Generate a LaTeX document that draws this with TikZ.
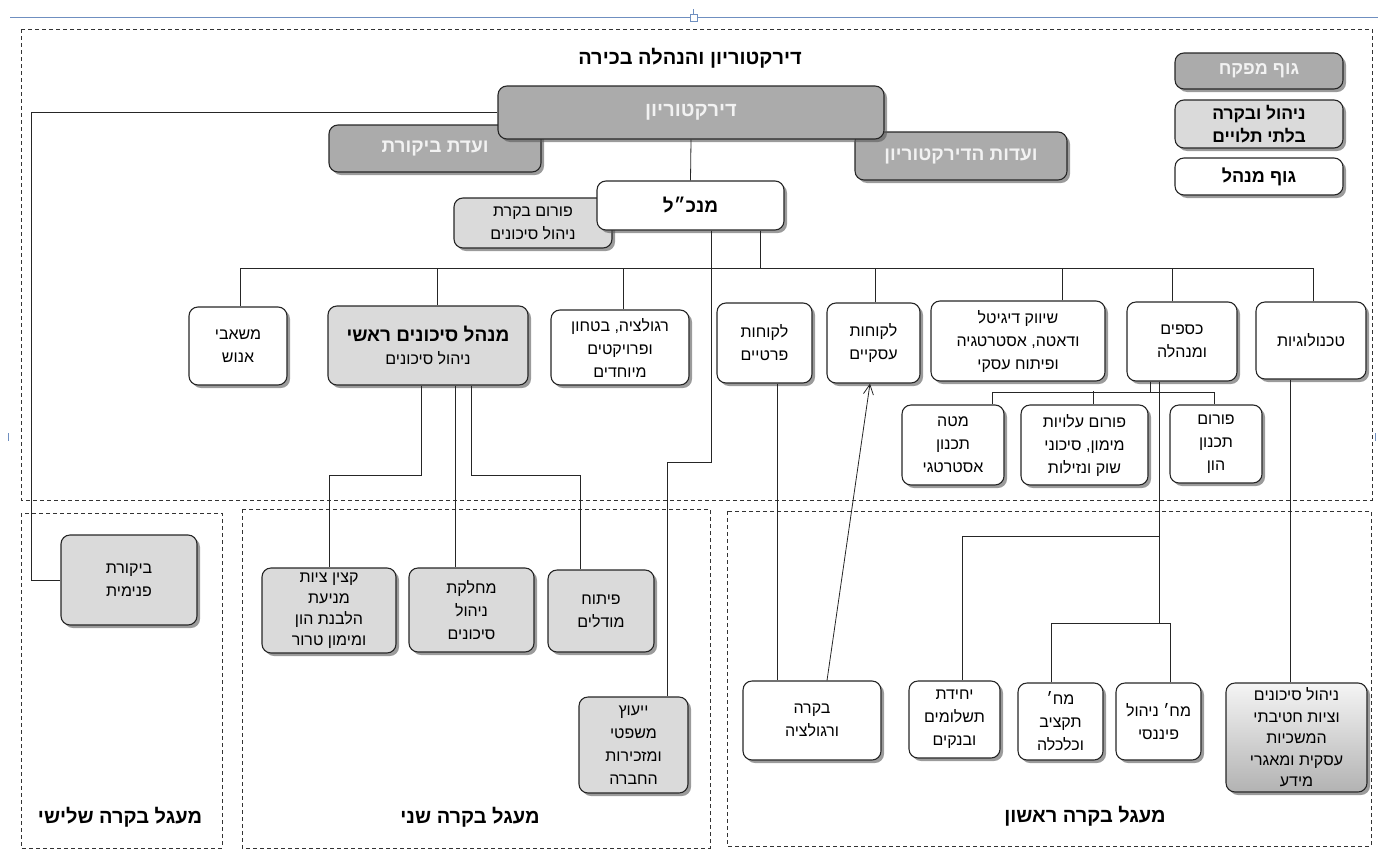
\documentclass[tikz,border=0pt]{standalone}
\usepackage{fontspec}
\setmainfont{Liberation Sans}
\newfontfamily\hebfont[Script=Hebrew]{Liberation Sans}
\usetikzlibrary{shadows,arrows.meta}
\TeXXeTstate=1
\newcommand\rtl[1]{\beginR#1\endR}
\definecolor{supgray}{HTML}{ABABAB}
\definecolor{indgray}{HTML}{DADADA}
\definecolor{canvasblue}{HTML}{6F8FC0}

\begin{document}
\begin{tikzpicture}[x=1pt,y=-1pt,
  box/.style={draw=black!85,line width=1.1pt,rounded corners=9pt,fill=white,
    align=center,inner sep=2pt,
    drop shadow={shadow xshift=3pt,shadow yshift=-3pt,fill=black!65,opacity=.6},
    font=\hebfont\fontsize{16}{23}\selectfont},
  supbox/.style={box,fill=supgray,text=white!95!black,font=\hebfont\bfseries\fontsize{19}{23}\selectfont},
  indbox/.style={box,fill=indgray},
  wh/.style 2 args={minimum width=#1pt,minimum height=#2pt},
  conn/.style={black!85,line width=0.8pt},
  ringbox/.style={black!80,line width=0.7pt,dash pattern=on 4pt off 3pt},
  lbl/.style={font=\hebfont\bfseries\fontsize{20}{24}\selectfont}]

  \useasboundingbox (0,0) rectangle (1378,854);

  %% canvas handles of the editor
  \draw[canvasblue,line width=0.7pt] (10,17) -- (1378,17);
  \draw[canvasblue,line width=0.7pt] (693,9) -- (693,14);
  \draw[canvasblue,line width=0.7pt,fill=white] (690,14) rectangle (697,21);
  \draw[canvasblue,line width=0.7pt] (8,433) -- (8,441);
  \draw[canvasblue,line width=0.7pt] (1375,433) -- (1375,441);

  %% the four control circles
  \draw[ringbox] (21,29) rectangle (1372,500);
  \draw[ringbox] (21,513) rectangle (222,848);
  \draw[ringbox] (242,509) rectangle (710,848);
  \draw[ringbox] (727,511) rectangle (1371,846);

  \node[lbl] (ttop) at (690,58) {\rtl{דירקטוריון והנהלה בכירה}};
  \node[lbl] (tthird) at (120,817) {\rtl{מעגל בקרה שלישי}};
  \node[lbl] (tsecond) at (470,817) {\rtl{מעגל בקרה שני}};
  \node[lbl] (tfirst) at (1085,816) {\rtl{מעגל בקרה ראשון}};

  %% legend
  \node[supbox,wh={168}{36},font=\hebfont\bfseries\fontsize{18}{23}\selectfont] (leg1) at (1259,71) {\rtl{גוף מפקח}};
  \node[indbox,wh={168}{48},font=\hebfont\bfseries\fontsize{17.5}{23}\selectfont] (leg2) at (1259,124)
    {\rtl{ניהול ובקרה}\\\rtl{בלתי תלויים}};
  \node[box,wh={168}{37},font=\hebfont\bfseries\fontsize{18}{23}\selectfont] (leg3) at (1259,176.5) {\rtl{גוף מנהל}};

  %% board and management
  \node[supbox,wh={212}{47}] (audit) at (435,148.5) {\rtl{ועדת ביקורת}};
  \node[supbox,wh={212}{48}] (comm) at (961,156) {\rtl{ועדות הדירקטוריון}};
  \node[supbox,wh={386}{53},font=\hebfont\bfseries\fontsize{20}{23}\selectfont] (dir) at (691,112.5) {\rtl{דירקטוריון}};
  \node[indbox,wh={158}{50}] (forum) at (533,223) {\rtl{פורום בקרת}\\\rtl{ניהול סיכונים}};
  \node[box,wh={187}{49},font=\hebfont\bfseries\fontsize{19}{23}\selectfont] (ceo) at (690.5,205.5) {\rtl{מנכ״ל}};

  %% divisions
  \node[box,wh={98}{78}] (hr) at (238,346) {\rtl{משאבי}\\\rtl{אנוש}};
  \node[indbox,wh={200}{79}] (cro) at (428,345.5)
    {{\bfseries\fontsize{19}{24}\selectfont\rtl{מנהל סיכונים ראשי}}\\\rtl{ניהול סיכונים}};
  \node[box,wh={138}{75}] (reg) at (620,347.5) {\rtl{רגולציה, בטחון}\\\rtl{ופרויקטים}\\\rtl{מיוחדים}};
  \node[box,wh={95}{80}] (priv) at (764.5,343) {\rtl{לקוחות}\\\rtl{פרטיים}};
  \node[box,wh={93}{80}] (biz) at (873.5,343) {\rtl{לקוחות}\\\rtl{עסקיים}};
  \node[box,wh={174}{80}] (mkt) at (1018,341) {\rtl{שיווק דיגיטל}\\\rtl{ודאטה, אסטרטגיה}\\\rtl{ופיתוח עסקי}};
  \node[box,wh={110}{79}] (fin) at (1182,341.5) {\rtl{כספים}\\\rtl{ומנהלה}};
  \node[box,wh={110}{77}] (tech) at (1311,340.5) {\rtl{טכנולוגיות}};

  \node[box,wh={102}{80}] (stp) at (953,445) {\rtl{מטה}\\\rtl{תכנון}\\\rtl{אסטרטגי}};
  \node[box,wh={127}{80}] (frm) at (1084.5,445) {\rtl{פורום עלויות}\\\rtl{מימון, סיכוני}\\\rtl{שוק ונזילות}};
  \node[box,wh={92}{78}] (cap) at (1216,444) {\rtl{פורום}\\\rtl{תכנון}\\\rtl{הון}};

  %% third circle
  \node[indbox,wh={136}{90}] (bik) at (129,580) {\rtl{ביקורת}\\\rtl{פנימית}};

  %% second circle
  \node[indbox,wh={134}{85},font=\hebfont\fontsize{16}{21}\selectfont] (aml) at (329,610.5)
    {\rtl{קצין ציות}\\\rtl{מניעת}\\\rtl{הלבנת הון}\\\rtl{ומימון טרור}};
  \node[indbox,wh={125}{84}] (rmd) at (471.5,610) {\rtl{מחלקת}\\\rtl{ניהול}\\\rtl{סיכונים}};
  \node[indbox,wh={106}{82}] (mdl) at (601,611) {\rtl{פיתוח}\\\rtl{מודלים}};
  \node[indbox,wh={109}{96}] (legal) at (633.5,745) {\rtl{ייעוץ}\\\rtl{משפטי}\\\rtl{ומזכירות}\\\rtl{החברה}};

  %% first circle
  \node[box,wh={138}{79}] (ctrl) at (812,720.5) {\rtl{בקרה}\\\rtl{ורגולציה}};
  \node[box,wh={91}{77}] (pay) at (954.5,719.5) {\rtl{יחידת}\\\rtl{תשלומים}\\\rtl{ובנקים}};
  \node[box,wh={85}{77}] (bud) at (1060.5,721.5) {\rtl{מח׳}\\\rtl{תקציב}\\\rtl{וכלכלה}};
  \node[box,wh={85}{77}] (fmg) at (1158.5,721.5) {\rtl{מח׳ ניהול}\\\rtl{פיננסי}};
  \node[box,wh={141}{109},top color=black!4,bottom color=black!30,font=\hebfont\fontsize{16}{21.5}\selectfont] (risk) at (1296.5,737.5)
    {\rtl{ניהול סיכונים}\\\rtl{וציות חטיבתי}\\\rtl{המשכיות}\\\rtl{עסקית ומאגרי}\\\rtl{מידע}};

  %% connectors
  \coordinate (busl) at (240,268);
  \coordinate (audin) at (31,580);
  \draw[conn] (dir.south) -- (ceo.north);
  \draw[conn] (dir.west) -| (audin) -- (bik.west);

  \draw[conn] ([xshift=69.5pt]ceo.south) |- (busl);
  \draw[conn] ([xshift=2pt]hr.north) |- (busl);
  \draw[conn] ([xshift=9pt]cro.north) |- (busl);
  \draw[conn] ([xshift=3pt]reg.north) |- (busl);
  \draw[conn] ([xshift=1.5pt]biz.north) |- (busl);
  \draw[conn] ([xshift=44pt]mkt.north) |- (busl);
  \draw[conn] ([xshift=-10pt]fin.north) |- (busl);
  \draw[conn] ([xshift=2pt]tech.north) |- (busl);

  \draw[conn] ([xshift=20.5pt]ceo.south) -- ++(0,232) -| ([xshift=33.5pt]legal.north);
  \draw[conn] ([xshift=-7pt]cro.south) -- ++(0,90) -| (aml.north);
  \draw[conn] ([xshift=27pt]cro.south) -- ([xshift=-16.5pt]rmd.north);
  \draw[conn] ([xshift=43pt]cro.south) -- ++(0,90) -| ([xshift=-21pt]mdl.north);

  \draw[conn] ([xshift=-32pt]fin.south) -- ++(0,11) coordinate (fj);
  \draw[conn] ([xshift=39pt]stp.north) |- (fj) -| ([xshift=-2pt]cap.north);
  \draw[conn] ([xshift=8.5pt]frm.north) -- ++(0,-13);
  \draw[conn] ([xshift=-23pt]fin.south) -- ++(0,155) coordinate (fk) -| ([xshift=7.5pt]pay.north);
  \draw[conn] (fk) -- ++(0,87) coordinate (fm);
  \draw[conn] ([xshift=-9.5pt]bud.north) |- (fm) -| ([xshift=11.5pt]fmg.north);

  \draw[conn] ([xshift=-21pt]tech.south) -- ([xshift=-6.5pt]risk.north);
  \draw[conn] ([xshift=12.5pt]priv.south) -- ([xshift=-35pt]ctrl.north);
  \draw[conn,-{Straight Barb[length=10pt,width=10pt]}] ([xshift=15pt]ctrl.north) -- ([xshift=-3.5pt]biz.south);
\end{tikzpicture}
\end{document}
